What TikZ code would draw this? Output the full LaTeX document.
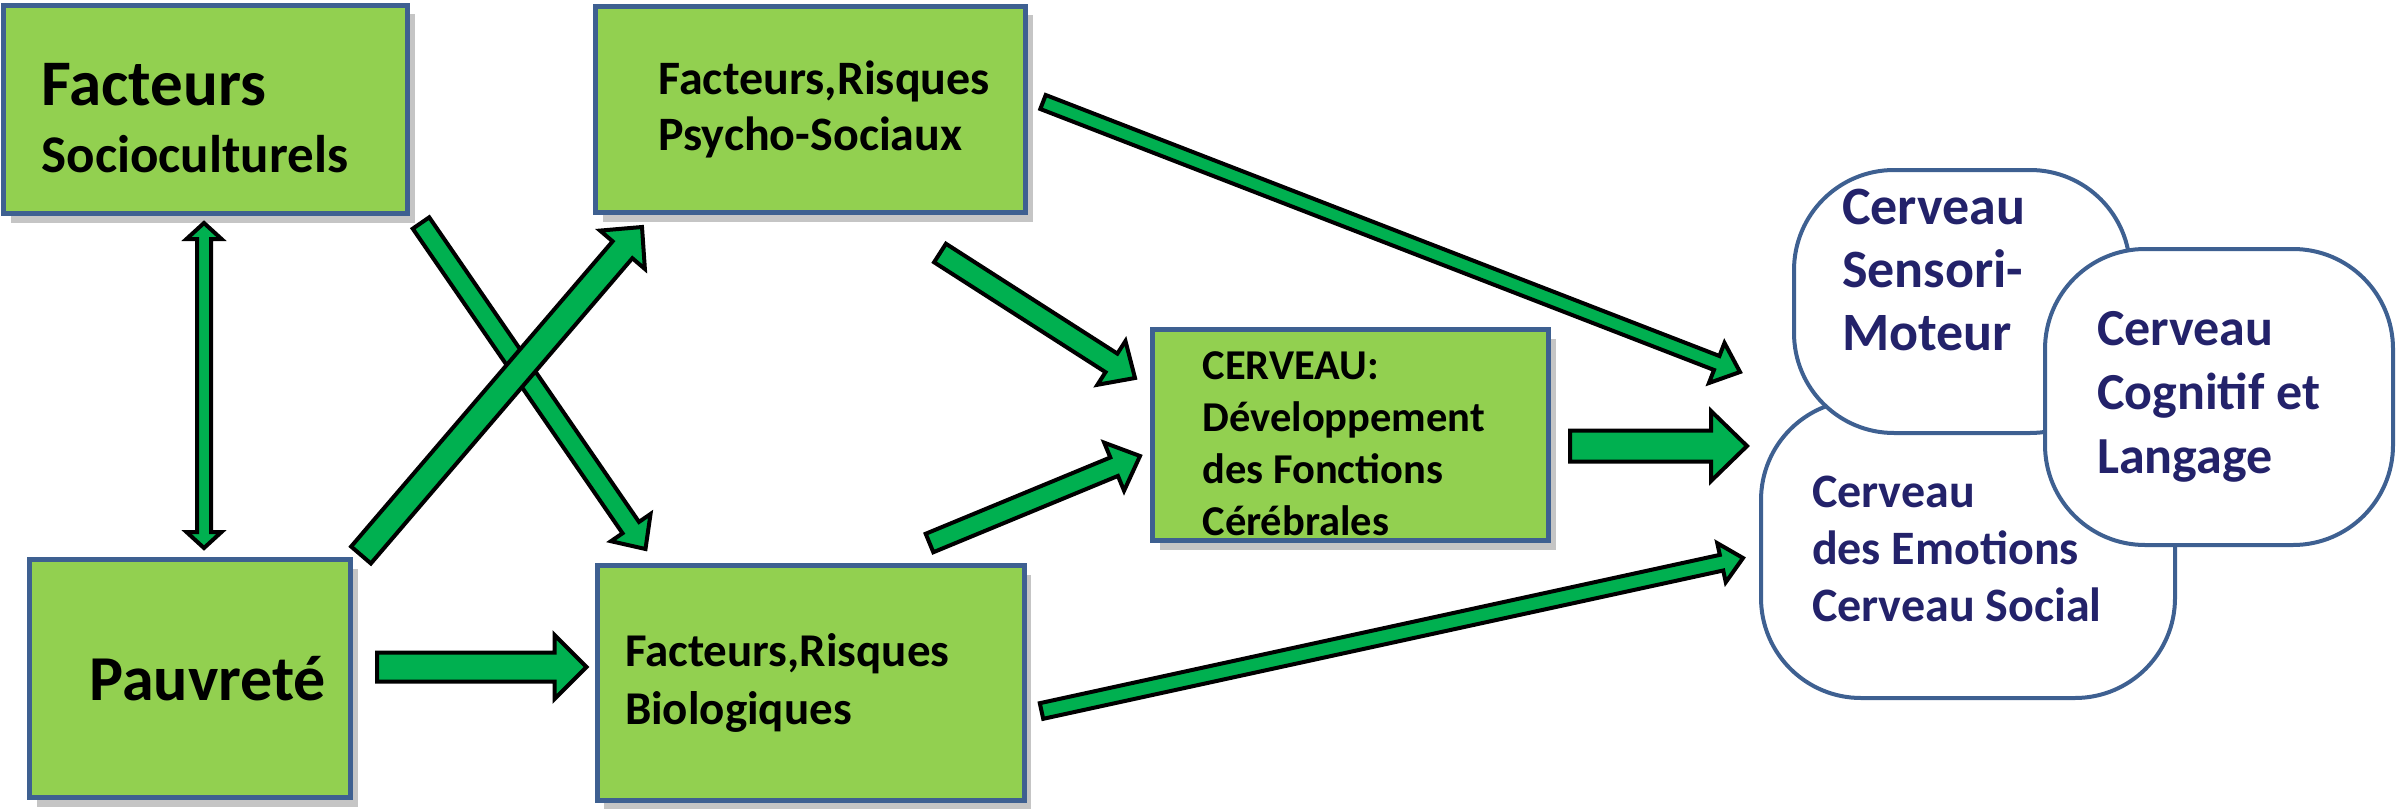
\documentclass[tikz,border=0pt]{standalone}
\usepackage{fontspec}
\setmainfont{Carlito}
\usepackage{xcolor}
\usepackage{tikz}
\usetikzlibrary{positioning, calc, shadows}
\definecolor{boxgreen}{HTML}{92D050}
\definecolor{boxedge}{HTML}{3E6091}
\definecolor{arrowgreen}{HTML}{00B050}
\definecolor{braintext}{HTML}{23226A}
\hyphenpenalty=10000

% block arrow: [style]{tail}{tip}{shaft half width}{head half width}{head length}
\newcommand{\fatarrow}[6][]{%
  \coordinate (fa-t) at (#2);
  \coordinate (fa-h) at (#3);
  \coordinate (fa-b) at ($(fa-h)!#6!(fa-t)$);
  \draw[fat,#1] ($(fa-t)!#4!90:(fa-h)$) -- ($(fa-b)!#4!90:(fa-h)$)
    -- ($(fa-b)!#5!90:(fa-h)$) -- (fa-h) -- ($(fa-b)!#5!-90:(fa-h)$)
    -- ($(fa-b)!#4!-90:(fa-h)$) -- ($(fa-t)!#4!-90:(fa-h)$) -- cycle;
}
% same, with a head at both ends
\newcommand{\fatdouble}[6][]{%
  \coordinate (fd-a) at (#2);
  \coordinate (fd-b) at (#3);
  \coordinate (fd-p) at ($(fd-a)!#6!(fd-b)$);
  \coordinate (fd-q) at ($(fd-b)!#6!(fd-a)$);
  \draw[fat,#1] (fd-a) -- ($(fd-p)!#5!90:(fd-b)$) -- ($(fd-p)!#4!90:(fd-b)$)
    -- ($(fd-q)!#4!90:(fd-b)$) -- ($(fd-q)!#5!90:(fd-b)$) -- (fd-b)
    -- ($(fd-q)!#5!-90:(fd-b)$) -- ($(fd-q)!#4!-90:(fd-b)$)
    -- ($(fd-p)!#4!-90:(fd-b)$) -- ($(fd-p)!#5!-90:(fd-b)$) -- cycle;
}

\begin{document}
\begin{tikzpicture}[x=1pt, y=-1pt,
  facteur/.style={draw=boxedge, fill=boxgreen, line width=5pt, align=flush left, inner sep=0pt,
    font=\bfseries\fontsize{47}{56}\selectfont,
    drop shadow={shadow xshift=7pt, shadow yshift=-9pt, fill=black!45, opacity=.5}},
  brain/.style={draw=boxedge, fill=white, line width=4pt, rounded corners=100pt, align=flush left,
    inner sep=0pt, text=braintext},
  fat/.style={draw=black, fill=arrowgreen, line width=4pt, line join=miter}]
  \useasboundingbox (0,0) rectangle (2397,808);

  % green boxes
  \node[facteur, minimum width=404pt, minimum height=208pt, inner xsep=38pt, text width=328pt, text height=59pt,
    font=\bfseries\fontsize{53}{67}\selectfont] (socio) at (205.5,109.5)
    {{\fontsize{65}{67}\selectfont Facteurs}\\Socioculturels};
  \node[facteur, minimum width=430pt, minimum height=206pt, inner xsep=63pt, text width=304pt,
    font=\bfseries\fontsize{48}{56}\selectfont, right=183pt of socio] (psy) {Facteurs,Risques\\Psycho-Sociaux};
  \node[facteur, minimum width=321pt, minimum height=238pt, inner xsep=60pt, text width=201pt,
    font=\bfseries\fontsize{64}{70}\selectfont] (pauv) at (190,678.5) {Pauvreté};
  \node[facteur, minimum width=427pt, minimum height=235pt, inner xsep=28pt, text width=371pt, below=348pt of psy] (bio)
    {Facteurs,Risques\\[2pt]Biologiques};
  \node[facteur, minimum width=396pt, minimum height=211pt, inner xsep=50pt, text width=296pt, text height=46pt,
    font=\bfseries\fontsize{42.5}{52}\selectfont] (cerv) at (1350.5,435)
    {CERVEAU:\\Développement\\des Fonctions\\Cérébrales};

  % the three brains
  \node[brain, minimum width=414pt, minimum height=298pt, inner xsep=51pt, text width=312pt,
    font=\bfseries\fontsize{48}{57}\selectfont] (emo) at (1968,549)
    {Cerveau\\des Emotions\\Cerveau Social};
  \node[brain, minimum width=336pt, minimum height=263pt, inner xsep=48pt, text width=240pt,
    font=\bfseries\fontsize{54}{63}\selectfont] (sens) at (1962,301.5)
    {Cerveau\\Sensori-\\Moteur\\\mbox{}};
  \node[brain, minimum width=348pt, minimum height=296pt, inner xsep=52pt, text width=244pt,
    font=\bfseries\fontsize{52}{64}\selectfont] (cog) at (2219,397)
    {Cerveau\\Cognitif et\\Langage};

  % arrows
  \coordinate (d1) at ($(socio.south)+(-1.5,7)$);
  \coordinate (d2) at ($(d1 |- pauv.north)+(0,-9)$);
  \fatdouble{d1}{d2}{7pt}{17.5pt}{16pt}
  \coordinate (s1) at ($(socio.south east)+(11,7)$);
  \coordinate (s2) at ($(bio.north west)+(51,-14)$);
  \fatarrow{s1}{s2}{10pt}{24pt}{26pt}
  \coordinate (p1) at ($(pauv.north east)+(8,-2)$);
  \coordinate (p2) at ($(psy.south west)+(49,12)$);
  \fatarrow{p1}{p2}{13pt}{29.5pt}{30pt}
  \coordinate (h1) at ($(pauv.east)+(24,-11.5)$);
  \coordinate (h2) at ($(h1 -| bio.west)+(-8,0)$);
  \fatarrow{h1}{h2}{14.5pt}{32pt}{32pt}
  \coordinate (c1) at ($(psy.south east)+(-88,38)$);
  \coordinate (c2) at ($(cerv.north west)+(-15,51)$);
  \fatarrow{c1}{c2}{11pt}{26pt}{28pt}
  \coordinate (c3) at ($(bio.north east)+(-97,-20)$);
  \coordinate (c4) at ($(cerv.west)+(-10,21)$);
  \fatarrow{c3}{c4}{10pt}{26pt}{28pt}
  \coordinate (m1) at ($(psy.east)+(15,-7.5)$);
  \coordinate (m2) at ($(sens.south west)+(-52,-63)$);
  \fatarrow{m1}{m2}{7.5pt}{21.5pt}{25pt}
  \coordinate (b1) at ($(cerv.east)+(19,11)$);
  \coordinate (b2) at ($(b1 -| emo.west)+(-12,0)$);
  \fatarrow{b1}{b2}{15.5pt}{35pt}{36pt}
  \coordinate (e1) at ($(bio.east)+(15,28)$);
  \coordinate (e2) at ($(emo.west)+(-16,9)$);
  \fatarrow{e1}{e2}{8pt}{20pt}{22pt}
\end{tikzpicture}
\end{document}
